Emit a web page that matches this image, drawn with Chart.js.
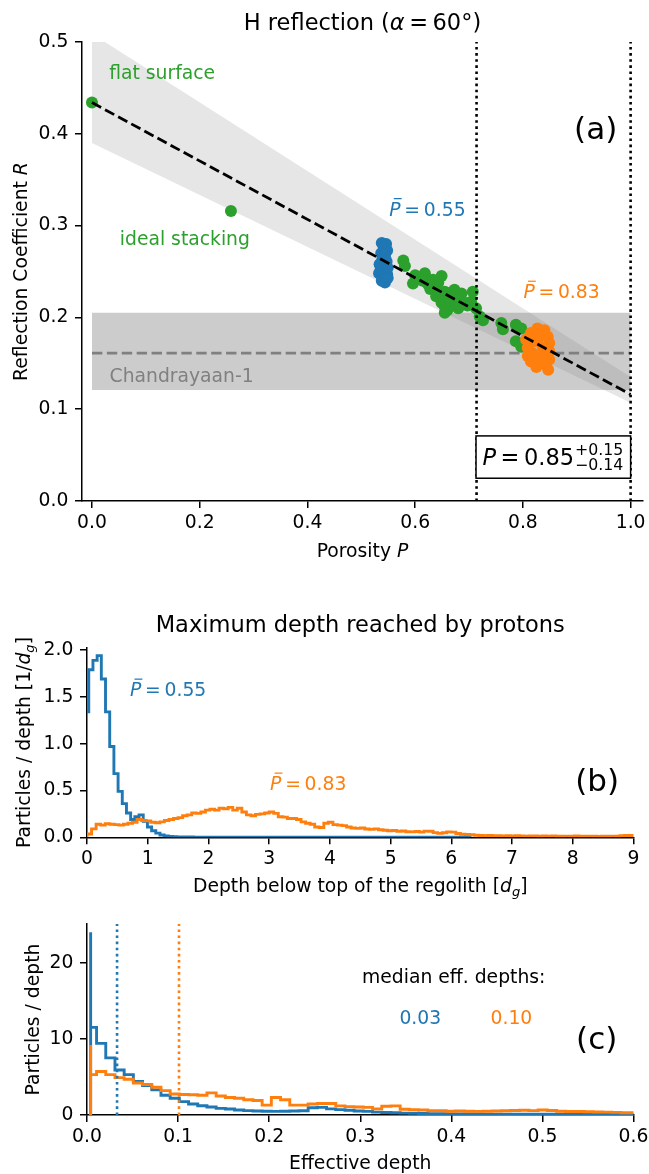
<!DOCTYPE html>
<html>
<head>
<meta charset="utf-8">
<script src="https://cdn.jsdelivr.net/npm/chart.js@4.4.1/dist/chart.umd.min.js"></script>
<style>
  body { margin: 0; background: #fff; }
  #wrap { position: relative; width: 649px; height: 1174px; }
  canvas { position: absolute; left: 0; }
</style>
</head>
<body>
<div id="wrap">
  <canvas id="chartA" width="649" height="580" style="top:0px"></canvas>
  <canvas id="chartB" width="649" height="320" style="top:580px"></canvas>
  <canvas id="chartC" width="649" height="274" style="top:900px"></canvas>
</div>
<script>
// ---- panel (a): reflection coefficient vs porosity ----
const fitP = [0, 1];
const fitR = [0.434, 0.116];
const bandUpperR = [0.509, 0.135];
const bandLowerR = [0.390, 0.107];
const chandraR = 0.161;
const chandraLow = 0.121;
const chandraHigh = 0.205;
const porosityBounds = [0.714, 1.0];

const greenP = [0.000, 0.258, 0.578, 0.581, 0.600, 0.596, 0.614, 0.618, 0.624, 0.633, 0.637, 0.639,
  0.649, 0.649, 0.655, 0.655, 0.655, 0.667, 0.667, 0.673, 0.680, 0.680, 0.692, 0.704, 0.707, 0.713,
  0.720, 0.726, 0.760, 0.763, 0.787, 0.797, 0.787, 0.797, 0.607, 0.628, 0.643, 0.661, 0.686, 0.697,
  0.660, 0.675];
const greenR = [0.434, 0.316, 0.262, 0.256, 0.246, 0.237, 0.240, 0.248, 0.236, 0.241, 0.232, 0.223,
  0.245, 0.216, 0.228, 0.212, 0.205, 0.227, 0.219, 0.230, 0.223, 0.210, 0.216, 0.217, 0.228, 0.210,
  0.201, 0.197, 0.194, 0.187, 0.192, 0.188, 0.174, 0.168, 0.243, 0.231, 0.238, 0.221, 0.226, 0.213,
  0.208, 0.215];

const blueP = [0.538, 0.546, 0.542, 0.548, 0.537, 0.544, 0.539, 0.547, 0.534, 0.542, 0.549, 0.536,
  0.544, 0.533, 0.548, 0.540, 0.545, 0.538, 0.544, 0.549];
const blueR = [0.281, 0.280, 0.276, 0.273, 0.270, 0.267, 0.263, 0.261, 0.258, 0.256, 0.254, 0.252,
  0.250, 0.248, 0.247, 0.245, 0.242, 0.240, 0.238, 0.243];

const orangeP = [0.827, 0.840, 0.815, 0.846, 0.831, 0.806, 0.822, 0.849, 0.809, 0.837, 0.849, 0.818,
  0.809, 0.843, 0.828, 0.849, 0.815, 0.837, 0.825, 0.847];
const orangeR = [0.188, 0.186, 0.183, 0.179, 0.179, 0.176, 0.174, 0.172, 0.167, 0.167, 0.163, 0.161,
  0.158, 0.160, 0.156, 0.154, 0.152, 0.150, 0.146, 0.143];

const aXTicks = [0, 0.2, 0.4, 0.6, 0.8, 1.0];
const aXLabels = ['0.0', '0.2', '0.4', '0.6', '0.8', '1.0'];
const aYTicks = [0, 0.1, 0.2, 0.3, 0.4, 0.5];
const aYLabels = ['0.0', '0.1', '0.2', '0.3', '0.4', '0.5'];

// ---- panel (b): maximum depth histograms ----
const maxDepthBlueStart = -0.04, maxDepthBlueWidth = 0.069;
const maxDepthBlue = [0.72, 1.34, 1.79, 1.89, 1.94, 1.69, 1.34, 0.97, 0.68, 0.49,
  0.36, 0.26, 0.19, 0.22, 0.24, 0.17, 0.11, 0.07, 0.045, 0.025,
  0.015, 0.01, 0.007, 0.005, 0.004, 0.003, 0.003, 0.002, 0.002, 0.002,
  0.001, 0.001, 0.001, 0.001, 0.001, 0.001, 0.001, 0.001, 0.001, 0.001,
  0.001, 0.001, 0.001, 0.001, 0.001, 0.001, 0.001, 0.001, 0.001, 0.001,
  0.001, 0.001, 0.001, 0.001, 0.001, 0.001, 0.001, 0.001, 0.001, 0.001,
  0.001, 0.001, 0.001, 0.001, 0.001, 0.001, 0.001, 0.001, 0.001, 0.001,
  0.001, 0.001, 0.001, 0.001, 0.001, 0.001, 0.001, 0.001, 0.001, 0.001,
  0.001, 0.001, 0.001, 0.001, 0.001, 0.001, 0.001, 0.001, 0.001, 0.001,
  0.001, 0.001];
const maxDepthOrangeStart = 0, maxDepthOrangeWidth = 0.075;
const maxDepthOrange = [0.03, 0.035, 0.09, 0.14, 0.13, 0.145, 0.14, 0.135, 0.13, 0.14,
  0.15, 0.16, 0.19, 0.18, 0.175, 0.16, 0.155, 0.165, 0.18, 0.19,
  0.2, 0.21, 0.23, 0.24, 0.26, 0.255, 0.27, 0.29, 0.3, 0.29,
  0.31, 0.305, 0.32, 0.29, 0.31, 0.27, 0.24, 0.23, 0.245, 0.25,
  0.26, 0.27, 0.255, 0.22, 0.215, 0.2, 0.2, 0.19, 0.165, 0.15,
  0.14, 0.11, 0.105, 0.15, 0.16, 0.135, 0.13, 0.125, 0.11, 0.1,
  0.095, 0.1, 0.088, 0.085, 0.09, 0.08, 0.075, 0.07, 0.072, 0.065,
  0.068, 0.06, 0.058, 0.062, 0.055, 0.066, 0.064, 0.05, 0.042, 0.048,
  0.058, 0.055, 0.04, 0.032, 0.03, 0.028, 0.022, 0.02, 0.018, 0.02,
  0.016, 0.018, 0.015, 0.017, 0.014, 0.016, 0.015, 0.013, 0.015, 0.014,
  0.012, 0.014, 0.013, 0.015, 0.012, 0.011, 0.013, 0.012, 0.014, 0.012,
  0.011, 0.013, 0.012, 0.01, 0.012, 0.011, 0.013, 0.012, 0.018, 0.02];
const bXTicks = [0, 1, 2, 3, 4, 5, 6, 7, 8, 9];
const bXLabels = ['0', '1', '2', '3', '4', '5', '6', '7', '8', '9'];
const bYTicks = [0, 0.5, 1.0, 1.5, 2.0];
const bYLabels = ['0.0', '0.5', '1.0', '1.5', '2.0'];

// ---- panel (c): effective depth histograms ----
const effFirstEdge = 0.004, effStart = 0.0004, effWidth = 0.0101;
const effBlue = [24.0, 11.5, 9.4, 7.5, 5.9, 5.3, 4.4, 3.85, 3.3, 2.6,
  2.19, 1.75, 1.44, 1.22, 1.05, 0.87, 0.79, 0.66, 0.57, 0.52,
  0.5, 0.48, 0.5, 0.52, 0.55, 0.95, 1.0, 0.8, 0.7, 0.62,
  0.52, 0.48, 0.38, 0.33, 0.3, 0.25, 0.22, 0.2, 0.18, 0.17,
  0.15, 0.14, 0.13, 0.14, 0.12, 0.12, 0.11, 0.12, 0.1, 0.1,
  0.11, 0.09, 0.1, 0.09, 0.08, 0.09, 0.08, 0.07, 0.08, 0.07];
const effOrange = [9.2, 5.3, 5.7, 5.3, 4.9, 4.7, 4.2, 4.0, 3.65, 3.2,
  2.75, 2.7, 2.65, 2.6, 2.9, 2.5, 2.3, 2.2, 2.0, 1.9,
  1.3, 2.3, 2.0, 1.3, 1.3, 1.45, 1.5, 1.5, 1.2, 1.1,
  1.05, 1.0, 0.8, 1.15, 1.2, 0.75, 0.7, 0.65, 0.55, 0.55,
  0.5, 0.52, 0.5, 0.48, 0.5, 0.52, 0.55, 0.6, 0.62, 0.58,
  0.65, 0.6, 0.5, 0.45, 0.45, 0.42, 0.4, 0.38, 0.35, 0.3];
const medianDepths = [0.033, 0.101];
const medianLabels = ['0.03', '0.10'];
const cXTicks = [0, 0.1, 0.2, 0.3, 0.4, 0.5, 0.6];
const cXLabels = ['0.0', '0.1', '0.2', '0.3', '0.4', '0.5', '0.6'];
const cYTicks = [0, 10, 20];
const cYLabels = ['0', '10', '20'];

// ---- styling ----
const BLUE = '#1f77b4', ORANGE = '#ff7f0e', GREEN = '#2ca02c';
const FAM = '"DejaVu Sans", sans-serif';
const FS = 18.75;
Chart.defaults.font.family = FAM;
Chart.defaults.color = '#000';

function font(size, italic) {
  return (italic ? 'italic ' : '') + size + 'px ' + FAM;
}

// parts: [text, style]; style n = normal, i = italic, b = italic with bar, s = italic subscript,
// a number instead of text is a gap in em
function drawRich(ctx, parts, x, y, size, color, align) {
  ctx.save();
  ctx.fillStyle = color;
  ctx.strokeStyle = color;
  ctx.textBaseline = 'alphabetic';
  ctx.textAlign = 'left';
  const sizes = parts.map(p => p[1] === 's' ? size * 0.7 : size);
  const widths = parts.map((p, i) => {
    if (typeof p[0] === 'number') return p[0] * size;
    ctx.font = font(sizes[i], p[1] !== 'n');
    return ctx.measureText(p[0]).width;
  });
  const total = widths.reduce((a, b) => a + b, 0);
  let cx = align === 'center' ? x - total / 2 : (align === 'right' ? x - total : x);
  parts.forEach((p, i) => {
    if (typeof p[0] !== 'number') {
      ctx.font = font(sizes[i], p[1] !== 'n');
      ctx.fillText(p[0], cx, y + (p[1] === 's' ? size * 0.22 : 0));
      if (p[1] === 'b') {
        ctx.lineWidth = size * 0.065;
        ctx.beginPath();
        ctx.moveTo(cx + size * 0.24, y - size * 0.9);
        ctx.lineTo(cx + size * 0.66, y - size * 0.9);
        ctx.stroke();
      }
    }
    cx += widths[i];
  });
  ctx.restore();
  return total;
}

function drawYLabel(ctx, parts, x, cy) {
  ctx.save();
  ctx.translate(x, cy);
  ctx.rotate(-Math.PI / 2);
  drawRich(ctx, parts, 0, FS * 0.36, FS, '#000', 'center');
  ctx.restore();
}

function axis(min, max, ticks, labels, fitSize, horizontal) {
  return {
    type: 'linear',
    min: min,
    max: max,
    grid: { drawOnChartArea: false, drawTicks: true, tickLength: 7, color: '#000', lineWidth: 1.5 },
    border: { display: true, color: '#000', width: 1.5 },
    ticks: {
      font: { size: FS, family: FAM },
      color: '#000',
      padding: horizontal ? 3.5 : 6.6,
      autoSkip: false,
      maxRotation: 0,
      minRotation: 0,
      callback: (v, i) => labels[i]
    },
    afterBuildTicks: s => { s.ticks = ticks.map(v => ({ value: v })); },
    afterFit: s => {
      if (horizontal) s.height = fitSize; else s.width = fitSize;
      s.paddingLeft = s.paddingRight = s.paddingTop = s.paddingBottom = 0;
    }
  };
}

function stepPoints(edges, values) {
  const pts = [{ x: edges[0], y: 0 }];
  values.forEach((v, i) => pts.push({ x: edges[i], y: v }));
  pts.push({ x: edges[values.length], y: values[values.length - 1] });
  pts.push({ x: edges[values.length], y: 0 });
  return pts;
}

function uniformEdges(start, width, n) {
  return Array.from({ length: n + 1 }, (_, i) => start + i * width);
}

function lineSet(pts, color, width, dash, order) {
  return {
    type: 'line', data: pts, borderColor: color, borderWidth: width, borderDash: dash || [],
    borderCapStyle: 'butt', pointRadius: 0, pointHoverRadius: 0, fill: false, order: order
  };
}

function stepSet(pts, color, order) {
  return {
    type: 'line', data: pts, borderColor: color, borderWidth: 2.9, stepped: 'after',
    borderJoinStyle: 'miter', pointRadius: 0, pointHoverRadius: 0, fill: false, order: order
  };
}

function scatterSet(px, py, color, order) {
  return {
    type: 'line', data: px.map((v, i) => ({ x: v, y: py[i] })), showLine: false,
    pointRadius: 6, pointHoverRadius: 6, pointBorderWidth: 0,
    pointBackgroundColor: color, borderColor: color, order: order
  };
}

const baseOptions = (padTop, padRight, xAxis, yAxis) => ({
  responsive: false,
  animation: false,
  events: [],
  layout: { padding: { top: padTop, right: padRight, left: 0, bottom: 0 } },
  plugins: { legend: { display: false }, tooltip: { enabled: false } },
  scales: { x: xAxis, y: yAxis }
});

// ---------- chart (a) ----------
const annotA = {
  id: 'annotA',
  afterDatasetsDraw(chart) {
    const { ctx, scales: { x, y } } = chart;
    const l = x.getPixelForValue(0.713), r = x.getPixelForValue(1.0);
    const t = y.getPixelForValue(0.0709), b = y.getPixelForValue(0.0248);
    ctx.save();
    ctx.fillStyle = '#fff';
    ctx.fillRect(l, t, r - l, b - t);
    ctx.strokeStyle = '#000';
    ctx.lineWidth = 1.5;
    ctx.strokeRect(l, t, r - l, b - t);
    ctx.restore();
    const big = 22.5;
    const base = b - 13.3;
    const w = drawRich(ctx, [['P', 'i'], [0.2], ['=', 'n'], [0.2], ['0.85', 'n']], l + 6.5, base, big, '#000', 'left');
    ctx.save();
    ctx.fillStyle = '#000';
    ctx.font = font(big * 0.7, false);
    ctx.textBaseline = 'alphabetic';
    ctx.fillText('+0.15', l + 6.5 + w + 1, base - 10);
    ctx.fillText('\u22120.14', l + 6.5 + w + 1, base + 5);
    ctx.restore();
  },
  afterDraw(chart) {
    const { ctx, chartArea: ca, scales: { x, y } } = chart;
    drawRich(ctx, [['H reflection (', 'n'], ['\u03b1', 'i'], [0.2], ['=', 'n'], [0.2], ['60\u00b0)', 'n']],
      (ca.left + ca.right) / 2, ca.top - 12.5, 22.5, '#000', 'center');
    drawRich(ctx, [['Porosity ', 'n'], ['P', 'i']], (ca.left + ca.right) / 2, ca.bottom + 55.7, FS, '#000', 'center');
    drawYLabel(ctx, [['Reflection Coefficient ', 'n'], ['R', 'i']], 20, (ca.top + ca.bottom) / 2);
    drawRich(ctx, [['flat surface', 'n']], x.getPixelForValue(0.032), y.getPixelForValue(0.4597), FS, GREEN, 'left');
    drawRich(ctx, [['ideal stacking', 'n']], x.getPixelForValue(0.0517), y.getPixelForValue(0.279), FS, GREEN, 'left');
    drawRich(ctx, [['P', 'b'], [0.2], ['=', 'n'], [0.2], ['0.55', 'n']], x.getPixelForValue(0.552), y.getPixelForValue(0.311), FS, BLUE, 'left');
    drawRich(ctx, [['P', 'b'], [0.2], ['=', 'n'], [0.2], ['0.83', 'n']], x.getPixelForValue(0.801), y.getPixelForValue(0.221), FS, ORANGE, 'left');
    drawRich(ctx, [['Chandrayaan-1', 'n']], x.getPixelForValue(0.0327), y.getPixelForValue(0.130), FS, '#808080', 'left');
    drawRich(ctx, [['(a)', 'n']], x.getPixelForValue(0.895), y.getPixelForValue(0.394), 31, '#000', 'left');
  }
};

new Chart(document.getElementById('chartA'), {
  type: 'line',
  data: {
    datasets: [
      Object.assign(lineSet(fitP.map((p, i) => ({ x: p, y: bandUpperR[i] })), 'rgba(0,0,0,0)', 0, null, 10),
        { fill: '+1', backgroundColor: 'rgba(128,128,128,0.2)' }),
      lineSet(fitP.map((p, i) => ({ x: p, y: bandLowerR[i] })), 'rgba(0,0,0,0)', 0, null, 10),
      Object.assign(lineSet(fitP.map(p => ({ x: p, y: chandraHigh })), 'rgba(0,0,0,0)', 0, null, 9),
        { fill: '+1', backgroundColor: 'rgba(128,128,128,0.4)' }),
      lineSet(fitP.map(p => ({ x: p, y: chandraLow })), 'rgba(0,0,0,0)', 0, null, 9),
      lineSet(fitP.map(p => ({ x: p, y: chandraR })), '#808080', 2.8, [10.4, 4.5], 8),
      scatterSet(greenP, greenR, GREEN, 5),
      scatterSet(blueP, blueR, BLUE, 4),
      scatterSet(orangeP, orangeR, ORANGE, 3),
      lineSet(fitP.map((p, i) => ({ x: p, y: fitR[i] })), '#000', 2.8, [10.4, 4.5], 2),
      lineSet([{ x: porosityBounds[0], y: 0 }, { x: porosityBounds[0], y: 0.5 }], '#000', 2.6, [2.6, 3.5], 1),
      lineSet([{ x: porosityBounds[1], y: 0 }, { x: porosityBounds[1], y: 0.5 }], '#000', 2.6, [2.6, 3.5], 1)
    ]
  },
  options: baseOptions(42, 3,
    axis(-0.0185, 1.023, aXTicks, aXLabels, 79, true),
    axis(0, 0.5, aYTicks, aYLabels, 82, false)),
  plugins: [annotA]
});

// ---------- chart (b) ----------
const annotB = {
  id: 'annotB',
  afterDraw(chart) {
    const { ctx, chartArea: ca, scales: { x, y } } = chart;
    drawRich(ctx, [['Maximum depth reached by protons', 'n']], (ca.left + ca.right) / 2, ca.top - 15.7, 22.5, '#000', 'center');
    drawRich(ctx, [['Depth below top of the regolith [', 'n'], ['d', 'i'], ['g', 's'], [']', 'n']],
      (ca.left + ca.right) / 2, ca.bottom + 54.7, FS, '#000', 'center');
    drawYLabel(ctx, [['Particles / depth [1/', 'n'], ['d', 'i'], ['g', 's'], [']', 'n']], 23, (ca.top + ca.bottom) / 2);
    drawRich(ctx, [['P', 'b'], [0.2], ['=', 'n'], [0.2], ['0.55', 'n']], x.getPixelForValue(0.708), y.getPixelForValue(1.509), FS, BLUE, 'left');
    drawRich(ctx, [['P', 'b'], [0.2], ['=', 'n'], [0.2], ['0.83', 'n']], x.getPixelForValue(3.015), y.getPixelForValue(0.505), FS, ORANGE, 'left');
    drawRich(ctx, [['(b)', 'n']], x.getPixelForValue(8.04), y.getPixelForValue(0.494), 31, '#000', 'left');
  }
};

new Chart(document.getElementById('chartB'), {
  type: 'line',
  data: {
    datasets: [
      stepSet(stepPoints(uniformEdges(maxDepthBlueStart, maxDepthBlueWidth, maxDepthBlue.length), maxDepthBlue), BLUE, 2),
      stepSet(stepPoints(uniformEdges(maxDepthOrangeStart, maxDepthOrangeWidth, maxDepthOrange.length), maxDepthOrange), ORANGE, 1)
    ]
  },
  options: baseOptions(67.7, 15.5,
    axis(0, 9, bXTicks, bXLabels, 62.7, true),
    axis(0, 2.025, bYTicks, bYLabels, 87, false)),
  plugins: [annotB]
});

// ---------- chart (c) ----------
const effEdges = [effFirstEdge].concat(uniformEdges(effStart, effWidth, effBlue.length).slice(1));

const annotC = {
  id: 'annotC',
  afterDraw(chart) {
    const { ctx, chartArea: ca, scales: { x, y } } = chart;
    drawRich(ctx, [['Effective depth', 'n']], (ca.left + ca.right) / 2, ca.bottom + 53.5, FS, '#000', 'center');
    drawYLabel(ctx, [['Particles / depth', 'n']], 32, (ca.top + ca.bottom) / 2);
    drawRich(ctx, [['median eff. depths:', 'n']], x.getPixelForValue(0.302), y.getPixelForValue(17.3), FS, '#000', 'left');
    drawRich(ctx, [[medianLabels[0], 'n']], x.getPixelForValue(0.343), y.getPixelForValue(12.0), FS, BLUE, 'left');
    drawRich(ctx, [[medianLabels[1], 'n']], x.getPixelForValue(0.443), y.getPixelForValue(12.0), FS, ORANGE, 'left');
    drawRich(ctx, [['(c)', 'n']], x.getPixelForValue(0.537), y.getPixelForValue(8.66), 31, '#000', 'left');
  }
};

const cYMax = 25.07;
new Chart(document.getElementById('chartC'), {
  type: 'line',
  data: {
    datasets: [
      stepSet(stepPoints(effEdges, effBlue), BLUE, 4),
      stepSet(stepPoints(effEdges, effOrange), ORANGE, 3),
      lineSet([{ x: medianDepths[0], y: 0 }, { x: medianDepths[0], y: cYMax }], BLUE, 2.6, [2.6, 3.5], 2),
      lineSet([{ x: medianDepths[1], y: 0 }, { x: medianDepths[1], y: cYMax }], ORANGE, 2.6, [2.6, 3.5], 1)
    ]
  },
  options: baseOptions(24, 15.5,
    axis(0, 0.6, cXTicks, cXLabels, 59, true),
    axis(0, cYMax, cYTicks, cYLabels, 87, false)),
  plugins: [annotC]
});
</script>
</body>
</html>
